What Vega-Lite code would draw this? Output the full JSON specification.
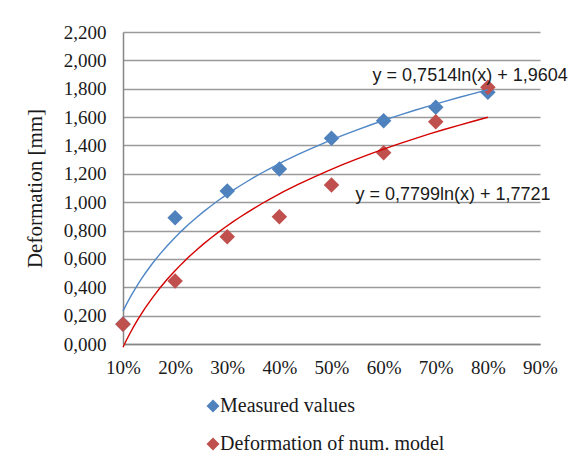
{
  "$schema": "https://vega.github.io/schema/vega-lite/v6.json",
  "width": 417,
  "height": 312,
  "autosize": {"type": "none"},
  "padding": {"left": 123, "top": 32, "right": 37, "bottom": 111},
  "background": "white",
  "config": {"view": {"stroke": null}, "font": "Liberation Serif"},
  "data": {
    "values": [
      {"x": 0.1, "def": 0.141, "series": "Measured values"},
      {"x": 0.2, "def": 0.891, "series": "Measured values"},
      {"x": 0.3, "def": 1.079, "series": "Measured values"},
      {"x": 0.4, "def": 1.234, "series": "Measured values"},
      {"x": 0.5, "def": 1.450, "series": "Measured values"},
      {"x": 0.6, "def": 1.575, "series": "Measured values"},
      {"x": 0.7, "def": 1.669, "series": "Measured values"},
      {"x": 0.8, "def": 1.775, "series": "Measured values"},
      {"x": 0.1, "def": 0.140, "series": "Deformation of num. model"},
      {"x": 0.2, "def": 0.444, "series": "Deformation of num. model"},
      {"x": 0.3, "def": 0.757, "series": "Deformation of num. model"},
      {"x": 0.4, "def": 0.898, "series": "Deformation of num. model"},
      {"x": 0.5, "def": 1.121, "series": "Deformation of num. model"},
      {"x": 0.6, "def": 1.349, "series": "Deformation of num. model"},
      {"x": 0.7, "def": 1.568, "series": "Deformation of num. model"},
      {"x": 0.8, "def": 1.810, "series": "Deformation of num. model"}
    ]
  },
  "encoding": {
    "x": {
      "field": "x", "type": "quantitative",
      "scale": {"domain": [0.1, 0.9], "nice": false, "zero": false},
      "axis": {
        "title": null, "values": [0.1, 0.2, 0.3, 0.4, 0.5, 0.6, 0.7, 0.8, 0.9],
        "format": ".0%", "grid": false, "ticks": false, "labelOverlap": false,
        "domainColor": "#868686", "domainWidth": 1.5,
        "labelFont": "Liberation Serif", "labelFontSize": 19, "labelColor": "#1a1a1a",
        "labelPadding": 14, "labelFlush": false
      }
    },
    "y": {
      "field": "def", "type": "quantitative",
      "scale": {"domain": [0, 2.2], "nice": false},
      "axis": {
        "title": "Deformation [mm]",
        "values": [0, 0.2, 0.4, 0.6, 0.8, 1.0, 1.2, 1.4, 1.6, 1.8, 2.0, 2.2],
        "labelExpr": "replace(format(datum.value, '.3f'), '.', ',')",
        "labelOverlap": false, "labelSeparation": 0,
        "grid": true, "gridColor": "#9a9a9a", "gridWidth": 1.3,
        "ticks": false, "domainColor": "#868686", "domainWidth": 1.5,
        "labelFont": "Liberation Serif", "labelFontSize": 19, "labelColor": "#1a1a1a",
        "labelPadding": 17,
        "titleFont": "Liberation Serif", "titleFontSize": 21, "titleFontWeight": "normal",
        "titleColor": "#1a1a1a", "titlePadding": 18
      }
    }
  },
  "layer": [
    {
      "mark": {"type": "point", "shape": "diamond", "filled": true, "size": 240, "opacity": 1},
      "encoding": {
        "color": {
          "field": "series", "type": "nominal",
          "scale": {
            "domain": ["Measured values", "Deformation of num. model"],
            "range": ["#4f81bd", "#c0504d"]
          },
          "legend": {
            "title": null, "orient": "none", "legendX": 80, "legendY": 364,
            "direction": "vertical", "symbolType": "diamond", "symbolSize": 170,
            "labelFont": "Liberation Serif", "labelFontSize": 20, "labelColor": "#1a1a1a",
            "labelLimit": 0, "rowPadding": 18, "labelOffset": -3
          }
        }
      }
    },
    {
      "transform": [
        {"filter": "datum.series === 'Measured values'"},
        {"regression": "def", "on": "x", "method": "log", "extent": [0.1, 0.8]}
      ],
      "mark": {"type": "line", "color": "#4f86c6", "strokeWidth": 1.4}
    },
    {
      "transform": [
        {"filter": "datum.series === 'Deformation of num. model'"},
        {"regression": "def", "on": "x", "method": "log", "extent": [0.1, 0.8]}
      ],
      "mark": {"type": "line", "color": "#d40000", "strokeWidth": 1.4}
    },
    {
      "data": {
        "values": [
          {"x": 0.766, "def": 1.89, "label": "y = 0,7514ln(x) + 1,9604"},
          {"x": 0.733, "def": 1.05, "label": "y = 0,7799ln(x) + 1,7721"}
        ]
      },
      "mark": {"type": "text", "font": "Liberation Sans", "fontSize": 18, "color": "#1a1a1a", "align": "center", "baseline": "middle"},
      "encoding": {
        "text": {"field": "label"}
      }
    }
  ]
}
